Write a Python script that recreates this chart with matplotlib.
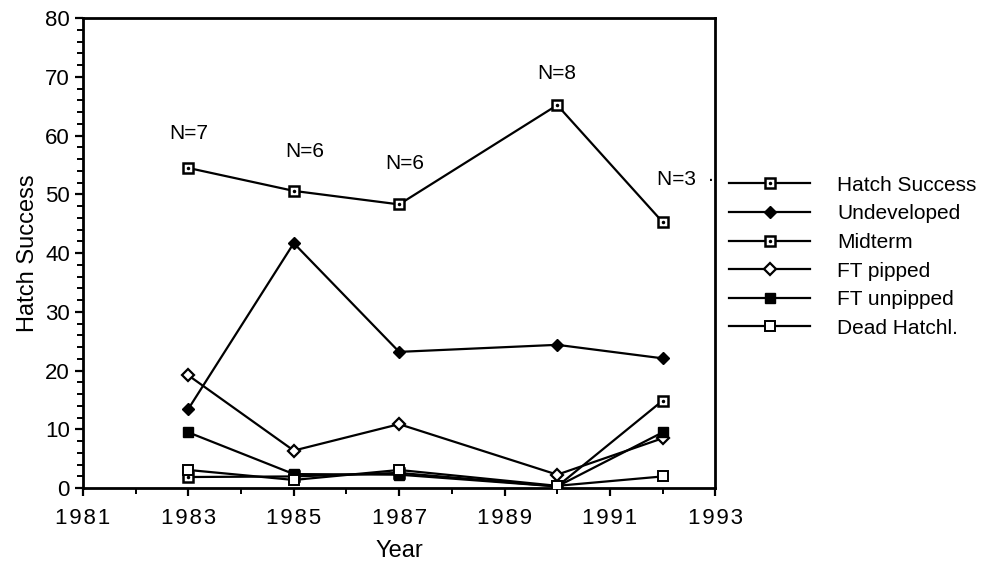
import matplotlib
matplotlib.use("Agg")
import matplotlib.pyplot as plt
from matplotlib.ticker import MultipleLocator, FixedLocator
from matplotlib.legend_handler import HandlerTuple

plt.rcParams['font.family'] = ['Liberation Sans', 'DejaVu Sans']

years = [1983, 1985, 1987, 1990, 1992]
hatch_success = [54.5, 50.6, 48.3, 65.2, 45.3]
undeveloped = [13.5, 41.7, 23.2, 24.4, 22.1]
midterm = [1.9, 2.0, 2.6, 0.3, 14.9]
ft_pipped = [19.2, 6.4, 10.9, 2.3, 8.5]
ft_unpipped = [9.5, 2.4, 2.3, 0.3, 9.5]
dead_hatchl = [3.1, 1.4, 3.1, 0.4, 2.0]

x_ticks = [1981, 1983, 1985, 1987, 1989, 1991, 1993]
n_labels = ["N=7", "N=6", "N=6", "N=8", "N=3  \u00b7"]
n_x = [1983.0, 1985.2, 1987.1, 1990.0, 1991.9]
n_y = [60.3, 57.3, 55.3, 70.5, 52.6]

fig = plt.figure(figsize=(9.88, 5.67), dpi=100)
ax = fig.add_axes([0.084, 0.139, 0.640, 0.829])

lw = 1.6
ms = 7.5
handles = []

# Hatch Success: square with dot
l1, = ax.plot(years, hatch_success, color='black', lw=lw, marker='s', ms=ms,
              mfc='white', mec='black', mew=1.8, zorder=3)
d1, = ax.plot(years, hatch_success, ls='none', marker='.', ms=3, color='black', zorder=4)
handles.append((l1, d1))

l2, = ax.plot(years, undeveloped, color='black', lw=lw, marker='D', ms=6.5,
              mfc='black', mec='black', zorder=3)
handles.append(l2)

l3, = ax.plot(years, midterm, color='black', lw=lw, marker='s', ms=ms,
              mfc='white', mec='black', mew=1.8, zorder=3)
d3, = ax.plot(years, midterm, ls='none', marker='.', ms=3, color='black', zorder=4)
handles.append((l3, d3))

l4, = ax.plot(years, ft_pipped, color='black', lw=lw, marker='D', ms=6,
              mfc='white', mec='black', mew=1.6, zorder=3)
handles.append(l4)

l5, = ax.plot(years, ft_unpipped, color='black', lw=lw, marker='s', ms=ms,
              mfc='black', mec='black', zorder=3)
handles.append(l5)

l6, = ax.plot(years, dead_hatchl, color='black', lw=lw, marker='s', ms=7.5,
              mfc='white', mec='black', mew=1.4, zorder=5)
handles.append(l6)

labels = ["Hatch Success", "Undeveloped", "Midterm", "FT pipped", "FT unpipped", "Dead Hatchl."]

for t, x, y in zip(n_labels, n_x, n_y):
    ha = 'left' if t.startswith("N=3") else 'center'
    ax.text(x, y, t, ha=ha, va='center', fontsize=15)

ax.set_xlim(x_ticks[0], x_ticks[-1])
ax.set_ylim(0, 80)
ax.xaxis.set_major_locator(FixedLocator(x_ticks))
ax.xaxis.set_minor_locator(MultipleLocator(1))
ax.yaxis.set_major_locator(MultipleLocator(10))
ax.yaxis.set_minor_locator(MultipleLocator(2))
ax.set_xticklabels(["\u200a".join(str(v)) for v in x_ticks])
ax.tick_params(which='major', direction='out', length=6, width=1.6, labelsize=16)
ax.tick_params(axis='x', which='major', pad=8)
ax.tick_params(which='minor', direction='out', length=4, width=1.4)
for s in ax.spines.values():
    s.set_linewidth(2)

ax.set_xlabel("Year", fontsize=17, labelpad=8)
ax.set_ylabel("Hatch Success", fontsize=17, labelpad=4)

fig.legend(handles, labels, loc='upper left', bbox_to_anchor=(0.738, 0.69),
           frameon=False, fontsize=15, handlelength=3.9, handletextpad=1.3,
           labelspacing=0.46, borderpad=0, borderaxespad=0,
           handler_map={tuple: HandlerTuple(ndivide=1)})

fig.savefig("out.png", dpi=100)
